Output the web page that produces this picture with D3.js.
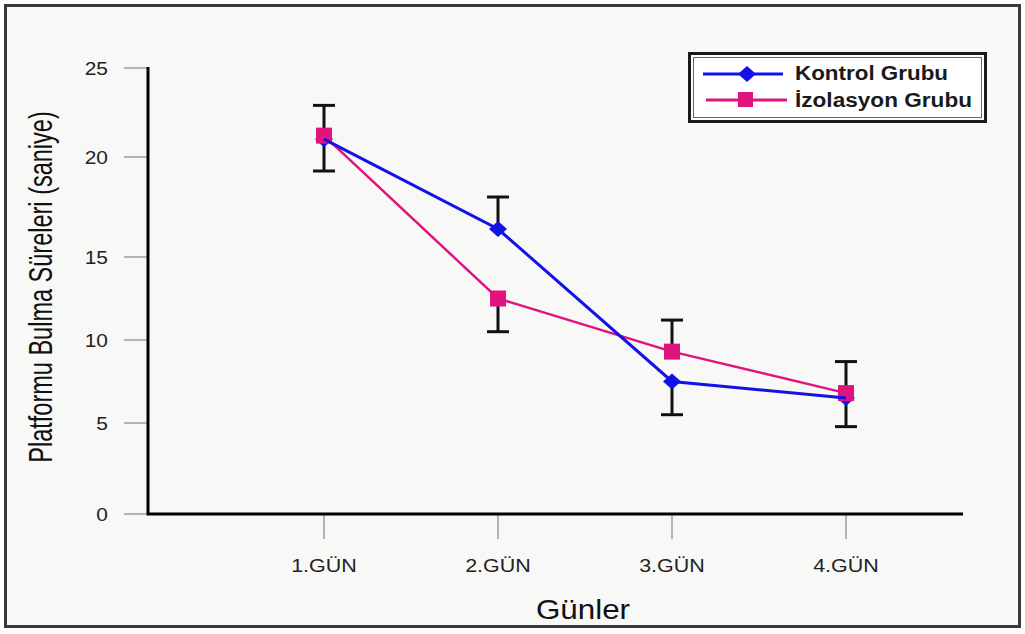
<!DOCTYPE html>
<html>
<head>
<meta charset="utf-8">
<script src="https://cdn.jsdelivr.net/npm/d3@7"></script>
<style>
  body { margin: 0; background: #fff; }
  text { font-family: "Liberation Sans", Arial, sans-serif; }
</style>
</head>
<body>
<svg id="chart"></svg>
<script>
// data
let days = ["1.GÜN", "2.GÜN", "3.GÜN", "4.GÜN"];
let yTicks = [0, 5, 10, 15, 20, 25];
let kontrol = [21.0, 16.4, 7.5, 6.5];
let izolasyon = [21.2, 12.5, 9.3, 6.8];
let kontrolErr = [1.7, 1.6, 2.0, 1.7];
let izolasyonErr = [1.7, 2.0, 1.9, 1.9];
// which side the error bar is drawn on (1 = up, -1 = down)
let kontrolSide = [-1, 1, -1, -1];
let izolasyonSide = [1, -1, 1, 1];

let width = 1025;
let height = 634;
let blue = "#1212e8";
let pink = "#e0137f";

let svg = d3.select("#chart")
  .attr("width", width)
  .attr("height", height);

// stretch text horizontally, the picture is a bit wider than tall
function stretch(sel, k) {
  sel.each(function() {
    let w = this.getComputedTextLength();
    d3.select(this).attr("textLength", w * k).attr("lengthAdjust", "spacingAndGlyphs");
  });
}

// frame
svg.append("rect")
  .attr("x", 5.5).attr("y", 5.5)
  .attr("width", 1014).attr("height", 621)
  .attr("fill", "#f8f8f6")
  .attr("stroke", "#3a3a3a")
  .attr("stroke-width", 3);

let x = d3.scalePoint()
  .domain(days)
  .range([324, 846]);

// the hand-made axis is not evenly spaced, so the scale follows its ticks
let y = d3.scaleLinear()
  .domain(yTicks)
  .range([514, 423, 340, 257, 157, 68]);

let x0 = 148, x1 = 963;

// y ticks (gray) + labels
let yAxis = svg.append("g");
yAxis.selectAll("line")
  .data(yTicks)
  .enter()
  .append("line")
    .attr("x1", 124).attr("x2", x0)
    .attr("y1", d => y(d)).attr("y2", d => y(d))
    .attr("stroke", "#b4b4b4")
    .attr("stroke-width", 2);
yAxis.selectAll("text")
  .data(yTicks)
  .enter()
  .append("text")
    .attr("x", 108)
    .attr("y", d => y(d))
    .attr("dy", "0.36em")
    .attr("text-anchor", "end")
    .attr("font-size", 18.5)
    .attr("fill", "#222")
    .text(d => d)
    .call(stretch, 1.13);

// x ticks + labels
let xAxis = svg.append("g");
xAxis.selectAll("line")
  .data(days)
  .enter()
  .append("line")
    .attr("x1", d => x(d)).attr("x2", d => x(d))
    .attr("y1", y(0)).attr("y2", y(0) + 25)
    .attr("stroke", "#b4b4b4")
    .attr("stroke-width", 2);
xAxis.selectAll("text")
  .data(days)
  .enter()
  .append("text")
    .attr("x", d => x(d))
    .attr("y", 572)
    .attr("text-anchor", "middle")
    .attr("font-size", 19)
    .attr("fill", "#222")
    .text(d => d)
    .call(stretch, 1.13);

// axis lines
svg.append("path")
  .attr("d", `M${x0},${y(25) - 1}V${y(0)}H${x1}`)
  .attr("fill", "none")
  .attr("stroke", "#000")
  .attr("stroke-width", 3);

// axis titles
svg.append("text")
  .attr("x", 583).attr("y", 619)
  .attr("text-anchor", "middle")
  .attr("font-size", 28)
  .attr("fill", "#111")
  .text("Günler")
  .call(stretch, 1.12);

svg.append("text")
  .attr("transform", "translate(52,287) scale(1.35,1) rotate(-90)")
  .attr("text-anchor", "middle")
  .attr("font-size", 24)
  .attr("fill", "#111")
  .text("Platformu Bulma Süreleri (saniye)")
  .call(stretch, 0.98);

// error bars
function addErrors(values, errs, sides) {
  let g = svg.append("g")
    .attr("stroke", "#111")
    .attr("stroke-width", 3);
  days.forEach((d, i) => {
    let end = values[i] + sides[i] * errs[i];
    g.append("line")
      .attr("x1", x(d)).attr("x2", x(d))
      .attr("y1", y(values[i])).attr("y2", y(end));
    g.append("line")
      .attr("x1", x(d) - 11).attr("x2", x(d) + 11)
      .attr("y1", y(end)).attr("y2", y(end));
  });
}
addErrors(kontrol, kontrolErr, kontrolSide);
addErrors(izolasyon, izolasyonErr, izolasyonSide);

let line = d3.line()
  .x((d, i) => x(days[i]))
  .y(d => y(d));

let diamond = "M0,-8L9,0L0,8L-9,0Z";

// blue diamonds go under the pink squares
svg.append("g").selectAll("path")
  .data(kontrol)
  .enter()
  .append("path")
    .attr("d", diamond)
    .attr("transform", (d, i) => `translate(${x(days[i])},${y(d)})`)
    .attr("fill", blue);

svg.append("path")
  .datum(izolasyon)
  .attr("fill", "none")
  .attr("stroke", pink)
  .attr("stroke-width", 2.5)
  .attr("d", line);

svg.append("g").selectAll("rect")
  .data(izolasyon)
  .enter()
  .append("rect")
    .attr("x", (d, i) => x(days[i]) - 8)
    .attr("y", d => y(d) - 8)
    .attr("width", 16).attr("height", 16)
    .attr("fill", pink);

svg.append("path")
  .datum(kontrol)
  .attr("fill", "none")
  .attr("stroke", blue)
  .attr("stroke-width", 3)
  .attr("d", line);

// legend
let legend = svg.append("g");
legend.append("rect")
  .attr("x", 689.5).attr("y", 53.5)
  .attr("width", 296).attr("height", 68)
  .attr("fill", "#fff")
  .attr("stroke", "#1a1a1a")
  .attr("stroke-width", 3);
legend.append("rect")
  .attr("x", 693.5).attr("y", 57.5)
  .attr("width", 288).attr("height", 60)
  .attr("fill", "none")
  .attr("stroke", "#666")
  .attr("stroke-width", 1);

legend.append("line")
  .attr("x1", 703).attr("x2", 783)
  .attr("y1", 74).attr("y2", 74)
  .attr("stroke", blue).attr("stroke-width", 3);
legend.append("path")
  .attr("d", diamond)
  .attr("transform", "translate(747,74)")
  .attr("fill", blue);
legend.append("line")
  .attr("x1", 706).attr("x2", 787)
  .attr("y1", 100).attr("y2", 100)
  .attr("stroke", pink).attr("stroke-width", 3);
legend.append("rect")
  .attr("x", 738).attr("y", 92)
  .attr("width", 15).attr("height", 15)
  .attr("fill", pink);

legend.append("text")
  .attr("x", 795).attr("y", 80)
  .attr("font-size", 19.5)
  .attr("font-weight", "bold")
  .attr("fill", "#1a1a1a")
  .text("Kontrol Grubu")
  .attr("textLength", 153)
  .attr("lengthAdjust", "spacingAndGlyphs");
legend.append("text")
  .attr("x", 795).attr("y", 107)
  .attr("font-size", 19.5)
  .attr("font-weight", "bold")
  .attr("fill", "#1a1a1a")
  .text("İzolasyon Grubu")
  .attr("textLength", 177)
  .attr("lengthAdjust", "spacingAndGlyphs");
</script>
</body>
</html>
